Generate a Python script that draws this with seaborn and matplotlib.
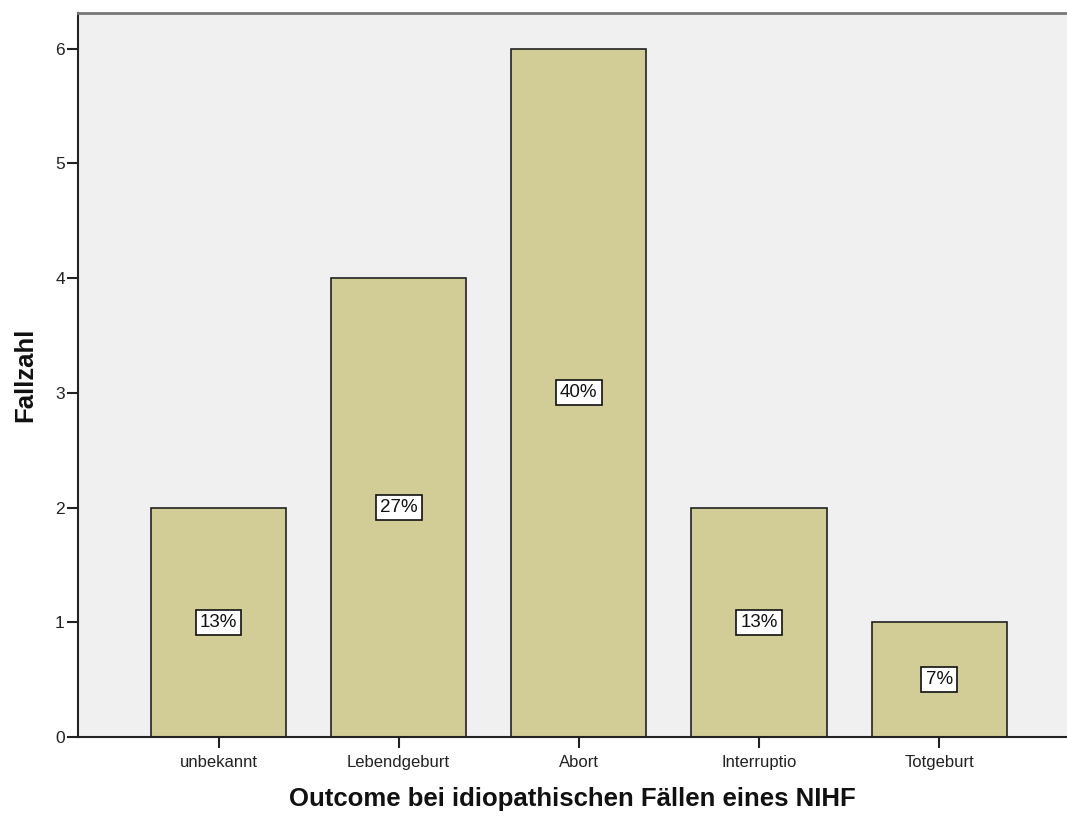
import matplotlib
matplotlib.use("Agg")
import matplotlib.pyplot as plt
import seaborn as sns
import pandas as pd

categories = ["unbekannt", "Lebendgeburt", "Abort", "Interruptio", "Totgeburt"]
counts = [2, 4, 6, 2, 1]
y_ticks = [0, 1, 2, 3, 4, 5, 6]

df = pd.DataFrame({"Outcome": categories, "Fallzahl": counts})
total = sum(counts)

sns.set_theme(style="white")
plt.rcParams["font.family"] = ["Liberation Sans", "DejaVu Sans"]

fig = plt.figure(figsize=(10.67, 8.17), dpi=100)
ax = fig.add_axes([0.0731, 0.0979, 0.9269, 0.8861])
ax.set_facecolor("#F0F0F0")

sns.barplot(data=df, x="Outcome", y="Fallzahl", order=categories,
            color="#D2CD97", saturation=1, width=0.75,
            edgecolor="#222222", linewidth=1.2, ax=ax, zorder=2)

for i, c in enumerate(counts):
    ax.text(i, c / 2, f"{round(100 * c / total)}%", ha="center", va="center",
            fontsize=13.5, color="#111111", zorder=3,
            bbox=dict(boxstyle="square,pad=0.22", facecolor="white",
                      edgecolor="#111111", linewidth=1.2))

ax.set_xlim(-0.78, 4.71)
ax.set_ylim(0, 6.31)
ax.set_yticks(y_ticks)
ax.set_yticklabels([str(t) for t in y_ticks], fontsize=12.5, color="#222222")
ax.set_xticks(range(len(categories)))
ax.set_xticklabels(categories, fontsize=12, color="#222222")

ax.tick_params(axis="y", direction="out", length=8, width=1.5,
               color="#222222", left=True, pad=1.5)
ax.tick_params(axis="x", direction="out", length=8, width=1.5,
               color="#222222", bottom=True, pad=5)

for side in ["left", "bottom"]:
    ax.spines[side].set_color("#222222")
    ax.spines[side].set_linewidth(1.5)
ax.spines["top"].set_color("#777777")
ax.spines["top"].set_linewidth(2)
ax.spines["right"].set_visible(False)

ax.set_xlabel("Outcome bei idiopathischen Fällen eines NIHF", fontsize=18.5,
              fontweight="bold", color="#111111", labelpad=12)
ax.set_ylabel("Fallzahl", fontsize=18.5, fontweight="bold", color="#111111",
              labelpad=13)

fig.savefig("out.png", dpi=100)
